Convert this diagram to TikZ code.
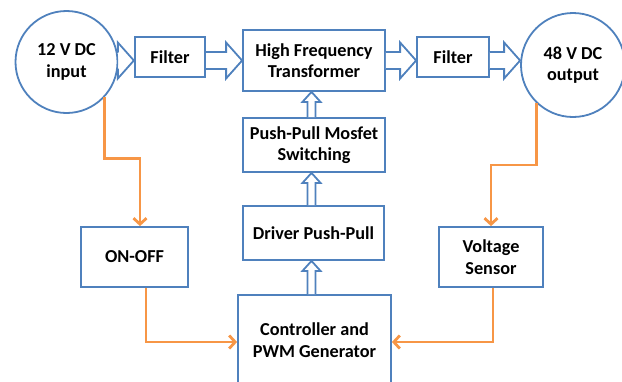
\documentclass[tikz,border=0pt]{standalone}
\usepackage{fontspec}
\setmainfont{Carlito}
\usetikzlibrary{arrows.meta,calc}
\definecolor{bblue}{HTML}{4F81BD}
\definecolor{borange}{HTML}{F79646}
\tikzset{
  txt/.style={font=\bfseries\fontsize{18.3}{21.5}\selectfont, align=center, text=black},
  bbox/.style={txt, draw=bblue, line width=1.8bp, fill=white, inner sep=0pt},
  bcirc/.style={txt, circle, draw=bblue, line width=1.8bp, fill=white, inner sep=0pt},
  blockarrow/.style={draw=bblue, line width=1.8bp, fill=white, line join=miter},
  oline/.style={draw=borange, line width=2.8bp, -{Straight Barb[length=6bp,width=13bp]}},
}
\newcommand\HArrow[2]{\path[blockarrow] let \p1=(#1), \p2=(#2) in
  (\x1,\y2-8.5bp) -- (\x2-16bp,\y2-8.5bp) -- (\x2-16bp,\y2-18bp) -- (\x2,\y2)
  -- (\x2-16bp,\y2+18bp) -- (\x2-16bp,\y2+8.5bp) -- (\x1,\y2+8.5bp);}
\newcommand\VArrow[2]{\path[blockarrow] let \p1=(#1), \p2=(#2) in
  (\x2-4bp,\y1) -- (\x2-4bp,\y2-10bp) -- (\x2-9bp,\y2-10bp) -- (\x2,\y2)
  -- (\x2+9bp,\y2-10bp) -- (\x2+4bp,\y2-10bp) -- (\x2+4bp,\y1);}
\begin{document}
\begin{tikzpicture}[x=1bp,y=-1bp]
\useasboundingbox (0,0) rectangle (622,381);
\clip (0,0) rectangle (622,381);
% circles
\node[bcirc, minimum size=102bp] (c1) at (66.5,62) {12 V DC\\input};
\node[bcirc, minimum size=104bp] (c2) at (573,65) {48 V DC\\output};
% boxes
\node[bbox, minimum width=70.5bp, minimum height=40bp] (f1) at (170,57) {Filter};
\node[bbox, minimum width=142bp, minimum height=61bp] (hft) at (314,60.5) {High Frequency\\Transformer};
\node[bbox, minimum width=72bp, minimum height=40bp] (f2) at (453,57) {Filter};
\node[bbox, minimum width=142bp, minimum height=54bp] (push) at (314,145) {Push-Pull Mosfet\\Switching};
\node[bbox, minimum width=141bp, minimum height=54bp] (drv) at (313.5,233) {Driver Push-Pull};
\node[bbox, minimum width=153bp, minimum height=90bp] (ctrl) at (314.5,340) {Controller and\\PWM Generator};
\node[bbox, minimum width=107bp, minimum height=60bp] (onoff) at (134.5,257) {ON-OFF};
\node[bbox, minimum width=104bp, minimum height=60bp] (vs) at (491,257) {Voltage\\Sensor};
% horizontal block arrows
\HArrow{c1.east |- hft.center}{f1.west |- hft.center}
\HArrow{f1.east |- hft.center}{hft.west}
\HArrow{hft.east}{f2.west |- hft.center}
\HArrow{f2.east |- hft.center}{c2.west |- hft.center}
% vertical block arrows
\coordinate (ax) at (311.5,0);
\VArrow{ax |- ctrl.north}{ax |- drv.south}
\VArrow{ax |- drv.north}{ax |- push.south}
\VArrow{ax |- push.north}{ax |- hft.south}
% orange connectors
\draw[oline] (c1.-43) -- ++(0,61) -| ($(onoff.north)+(5.5,0)$);
\draw[oline] (c2.226) -- ++(0,62) -| (vs.north);
\draw[oline] ($(onoff.south)+(11.5,0)$) |- (ctrl.west |- 0,342);
\draw[oline] ($(vs.south)+(2,0)$) |- (ctrl.east |- 0,342);
\end{tikzpicture}
\end{document}
